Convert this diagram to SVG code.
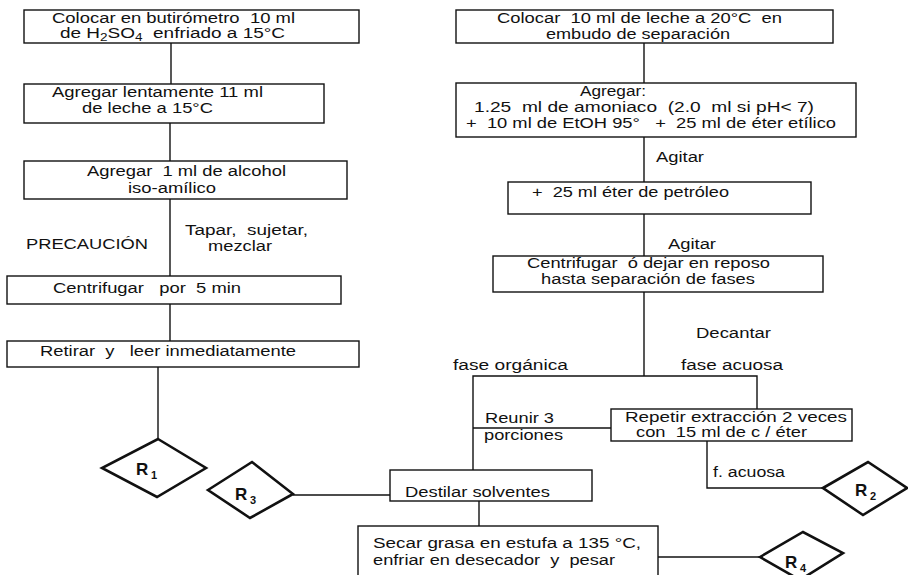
<svg xmlns="http://www.w3.org/2000/svg" width="908" height="575" viewBox="0 0 908 575" xml:space="preserve">
  <style>
    .box { fill: #fff; stroke: #111; stroke-width: 1.4; }
    .ln { fill: none; stroke: #111; stroke-width: 1.4; }
    .dia { fill: #fff; stroke: #111; stroke-width: 2.6; stroke-linejoin: miter; }
    text { font-family: "Liberation Sans", Arial, sans-serif; font-size: 14px; fill: #111; white-space: pre; }
    .r { font-size: 17px; font-weight: bold; }
    .rs { font-size: 11px; font-weight: bold; }
  </style>
  <rect width="908" height="575" fill="#fff"/>

  <!-- connectors -->
  <g id="connectors">
    <line class="ln" x1="171" y1="43" x2="171" y2="84"/>
    <line class="ln" x1="170" y1="123" x2="170" y2="161"/>
    <line class="ln" x1="170" y1="199" x2="170" y2="276"/>
    <line class="ln" x1="170" y1="304" x2="170" y2="341"/>
    <line class="ln" x1="158" y1="367" x2="158" y2="439"/>

    <line class="ln" x1="644" y1="43" x2="644" y2="83"/>
    <line class="ln" x1="644" y1="137" x2="644" y2="182"/>
    <line class="ln" x1="644" y1="214" x2="644" y2="256"/>
    <line class="ln" x1="644" y1="292" x2="644" y2="376"/>
    <polyline class="ln" points="473,470 473,376 757,376 757,409"/>
    <line class="ln" x1="473" y1="428" x2="611" y2="428"/>
    <polyline class="ln" points="707,441 707,488 823,488"/>
    <line class="ln" x1="293" y1="495" x2="390" y2="495"/>
    <line class="ln" x1="479" y1="501" x2="479" y2="526"/>
    <line class="ln" x1="658" y1="557" x2="760" y2="557"/>
  </g>

  <!-- left column -->
  <g id="butirometro">
    <rect class="box" x="24" y="10" width="335" height="33"/>
    <text x="52" y="23" textLength="243" lengthAdjust="spacingAndGlyphs">Colocar en butirómetro  10 ml</text>
    <text x="60" y="38" textLength="225" lengthAdjust="spacingAndGlyphs">de H<tspan font-size="10" dy="3">2</tspan><tspan dy="-3">SO</tspan><tspan font-size="10" dy="3">4</tspan><tspan dy="-3">  enfriado a 15°C</tspan></text>
  </g>
  <g id="agregar-leche">
    <rect class="box" x="24" y="84" width="300" height="39"/>
    <text x="52" y="97" textLength="211" lengthAdjust="spacingAndGlyphs">Agregar lentamente 11 ml</text>
    <text x="82" y="113" textLength="131" lengthAdjust="spacingAndGlyphs">de leche a 15°C</text>
  </g>
  <g id="agregar-alcohol">
    <rect class="box" x="24" y="161" width="323" height="38"/>
    <text x="87" y="176" textLength="199" lengthAdjust="spacingAndGlyphs">Agregar  1 ml de alcohol</text>
    <text x="128" y="193" textLength="88" lengthAdjust="spacingAndGlyphs">iso-amílico</text>
  </g>
  <g id="precaucion">
    <text x="26" y="249" textLength="122" lengthAdjust="spacingAndGlyphs">PRECAUCIÓN</text>
    <text x="185" y="235" textLength="123" lengthAdjust="spacingAndGlyphs">Tapar,  sujetar,</text>
    <text x="208" y="251" textLength="64" lengthAdjust="spacingAndGlyphs">mezclar</text>
  </g>
  <g id="centrifugar">
    <rect class="box" x="7" y="276" width="334" height="28"/>
    <text x="53" y="293" textLength="188" lengthAdjust="spacingAndGlyphs">Centrifugar   por  5 min</text>
  </g>
  <g id="retirar">
    <rect class="box" x="7" y="341" width="352" height="26"/>
    <text x="40" y="356" textLength="256" lengthAdjust="spacingAndGlyphs">Retirar  y   leer inmediatamente</text>
  </g>
  <g id="r1">
    <polygon class="dia" points="158,439 206,468 157,497 102,468"/>
    <text class="r" x="136" y="475">R</text><text class="rs" x="151" y="479">1</text>
  </g>

  <!-- right column -->
  <g id="embudo">
    <rect class="box" x="456" y="10" width="377" height="33"/>
    <text x="497" y="23" textLength="285" lengthAdjust="spacingAndGlyphs">Colocar  10 ml de leche a 20°C  en</text>
    <text x="546" y="38.5" textLength="184" lengthAdjust="spacingAndGlyphs">embudo de separación</text>
  </g>
  <g id="agregar-reactivos">
    <rect class="box" x="456" y="83" width="400" height="54"/>
    <text x="580" y="96" textLength="66" lengthAdjust="spacingAndGlyphs">Agregar:</text>
    <text x="474" y="112" textLength="340" lengthAdjust="spacingAndGlyphs">1.25  ml de amoniaco  (2.0  ml si pH&lt; 7)</text>
    <text x="466" y="128" textLength="370" lengthAdjust="spacingAndGlyphs">+  10 ml de EtOH 95°   +  25 ml de éter etílico</text>
  </g>
  <text x="656" y="162" textLength="48" lengthAdjust="spacingAndGlyphs">Agitar</text>
  <g id="eter-petroleo">
    <rect class="box" x="508" y="182" width="303" height="32"/>
    <text x="532" y="197" textLength="197" lengthAdjust="spacingAndGlyphs">+  25 ml éter de petróleo</text>
  </g>
  <text x="668" y="249" textLength="48" lengthAdjust="spacingAndGlyphs">Agitar</text>
  <g id="separacion">
    <rect class="box" x="493" y="256" width="330" height="36"/>
    <text x="527" y="268" textLength="243" lengthAdjust="spacingAndGlyphs">Centrifugar  ó dejar en reposo</text>
    <text x="541" y="284" textLength="214" lengthAdjust="spacingAndGlyphs">hasta separación de fases</text>
  </g>
  <text x="696" y="338" textLength="75" lengthAdjust="spacingAndGlyphs">Decantar</text>
  <text x="453" y="370" textLength="115" lengthAdjust="spacingAndGlyphs">fase orgánica</text>
  <text x="681" y="370" textLength="102" lengthAdjust="spacingAndGlyphs">fase acuosa</text>
  <text x="485" y="423" textLength="69" lengthAdjust="spacingAndGlyphs">Reunir 3</text>
  <text x="484" y="440" textLength="79" lengthAdjust="spacingAndGlyphs">porciones</text>
  <g id="repetir">
    <rect class="box" x="611" y="409" width="241" height="32"/>
    <text x="625" y="422" textLength="222" lengthAdjust="spacingAndGlyphs">Repetir extracción 2 veces</text>
    <text x="636" y="437" textLength="171" lengthAdjust="spacingAndGlyphs">con  15 ml de c / éter</text>
  </g>
  <text x="713" y="477" textLength="72" lengthAdjust="spacingAndGlyphs">f. acuosa</text>
  <g id="r2">
    <polygon class="dia" points="823,488 868,462 907,488 863,515"/>
    <text class="r" x="855" y="496">R</text><text class="rs" x="870" y="500">2</text>
  </g>

  <!-- bottom -->
  <g id="r3">
    <polygon class="dia" points="208,490 252,462 293,494 250,518"/>
    <text class="r" x="235" y="500">R</text><text class="rs" x="250" y="504">3</text>
  </g>
  <g id="destilar">
    <rect class="box" x="390" y="470" width="202" height="31"/>
    <text x="405" y="497" textLength="145" lengthAdjust="spacingAndGlyphs">Destilar solventes</text>
  </g>
  <g id="secar">
    <rect class="box" x="358" y="526" width="300" height="70"/>
    <text x="373" y="548" textLength="268" lengthAdjust="spacingAndGlyphs">Secar grasa en estufa a 135 °C,</text>
    <text x="373" y="565" textLength="242" lengthAdjust="spacingAndGlyphs">enfriar en desecador  y  pesar</text>
  </g>
  <g id="r4">
    <polygon class="dia" points="760,557 803,532 843,553 800,580"/>
    <text class="r" x="785" y="568">R</text><text class="rs" x="800" y="572">4</text>
  </g>
</svg>
